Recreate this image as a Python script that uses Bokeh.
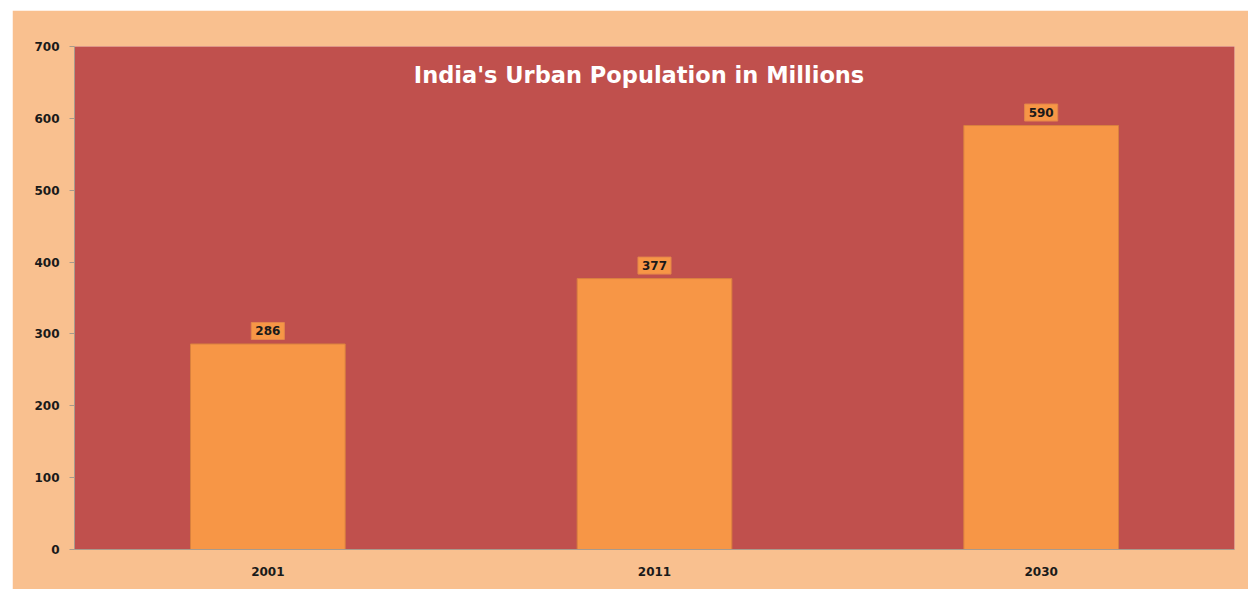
from bokeh.plotting import figure
from bokeh.models import ColumnDataSource, Label, FactorRange, Range1d, SingleIntervalTicker
from bokeh.core.properties import value
from bokeh.embed import file_html
from bokeh.resources import INLINE

years = ["2001", "2011", "2030"]
population = [286, 377, 590]
labels = [str(v) for v in population]
title_text = "India's Urban Population in Millions"

OUTER = "#F9C08F"
PLOT = "#C0504D"
BAR = "#F79646"
FONT = "DejaVu Sans"

src = ColumnDataSource(dict(x=years, top=population, label=labels))

p = figure(
    x_range=FactorRange(*years, range_padding=0),
    y_range=Range1d(0, 700),
    width=1236, height=579,
    output_backend="svg", toolbar_location=None,
    min_border_left=62, min_border_right=14, min_border_top=36, min_border_bottom=40,
    background_fill_color=PLOT, border_fill_color=OUTER,
    margin=(10, 0, 0, 12),
)
p.outline_line_color = None
p.xgrid.visible = False
p.ygrid.visible = False

p.vbar(x="x", top="top", width=0.4, source=src, fill_color=BAR,
       line_color="#D9803F", line_width=1)

p.text(x="x", y="top", text="label", source=src,
       text_align="center", text_baseline="middle", y_offset=-13,
       text_font=value(FONT), text_font_style="bold", text_font_size="12px",
       text_color="#1a1a1a",
       background_fill_color=BAR, border_line_color="#E3864A",
       border_line_width=1, padding=4)

t = Label(x=1.46, y=661, text=title_text, text_align="center", text_baseline="middle",
          text_font=FONT, text_font_style="bold", text_font_size="22.5px",
          text_color="white")
p.add_layout(t)

p.yaxis.ticker = SingleIntervalTicker(interval=100)
p.yaxis.minor_tick_line_color = None
p.yaxis.major_tick_in = 0
p.yaxis.major_tick_out = 5
p.yaxis.major_label_standoff = 10
p.yaxis.axis_line_color = "#A89A8C"
p.yaxis.major_tick_line_color = "#A89A8C"

p.xaxis.major_tick_line_color = None
p.xaxis.major_label_standoff = 11
p.xaxis.axis_line_color = "#A89A8C"

for ax in (p.xaxis, p.yaxis):
    ax.major_label_text_font = FONT
    ax.major_label_text_font_style = "bold"
    ax.major_label_text_font_size = "12px"
    ax.major_label_text_color = "#1a1a1a"

open("out.html", "w").write(file_html(p, INLINE))
